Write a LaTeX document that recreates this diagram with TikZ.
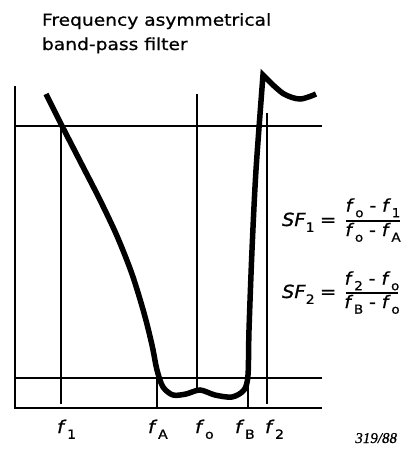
\documentclass[tikz,border=0pt]{standalone}
\usepackage{fontspec}
\usepackage{graphicx}
\setmainfont{DejaVu Sans}[FakeStretch=1.12,FakeBold=0.8]
\newfontfamily\titlefont{DejaVu Sans}[FakeStretch=1.13,FakeBold=0.8]
\newfontfamily\sffont{DejaVu Sans}[FakeStretch=1.08,FakeBold=0.8]
\newfontfamily\numfont{Liberation Serif}[FakeBold=0.8]
\newcommand\sbs[1]{\raisebox{-0.33em}{\scalebox{0.72}{\upshape #1}}}
\newcommand\ff[1]{\textit{f}\kern0.04em\sbs{#1}}
\begin{document}
\begin{tikzpicture}[x=1pt,y=-1pt,
  thinln/.style={line width=1.5pt},
  curveln/.style={line width=5.5pt, line join=miter, line cap=butt},
  txt/.style={inner sep=0pt, outer sep=0pt},
  title/.style={txt, anchor=base west, font=\titlefont\fontsize{16.5}{20}\selectfont},
  lbl/.style={txt, anchor=base west, font=\fontsize{17.5}{20}\selectfont},
  sfont/.style={txt, anchor=base west, font=\sffont\fontsize{18}{22}\selectfont},
  frac/.style={txt, anchor=base, font=\sffont\fontsize{17.3}{20}\selectfont},
  barln/.style={line width=1.3pt}]
\useasboundingbox (0,0) rectangle (405,455);

% title
\node[title] (ttl1) at (42,25.7) {Frequency asymmetrical};
\node[title] (ttl2) at (42,50) {band-pass filter};

% frame lines
\draw[thinln] (15,86) -- (15,408) -- (322,408);
\draw[thinln] (15,126) -- (322,126);
\draw[thinln] (15,378) -- (322,378);

% frequency markers
\draw[thinln] (61,126) -- (61,404);
\draw[thinln] (197,94) -- (197,390);
\draw[thinln] (157,378) -- (157,408);
\draw[thinln] (248,380) -- (248,408);
\draw[thinln] (267,113) -- (267,404);

% response curve
\draw[curveln] plot[smooth,tension=0.5] coordinates {(46,94) (61,124) (80,161) (100,200) (117,236) (132,274) (144,313) (152,345) (157,370) (163,387) (173,395) (186,394) (200,390) (215,395) (232,397) (244,390) (248,375) (249,330) (252,250) (256,170) (263,75)}
  -- plot[smooth,tension=0.55] coordinates {(271,83) (284,94) (300,99) (316,94)};

% axis labels
\node[lbl] (l1) at (57,433) {\ff{1}};
\node[lbl] (lA) at (148,433) {\ff{A}};
\node[lbl] (lo) at (195,433) {\ff{o}};
\node[lbl] (lB) at (235,433) {\ff{B}};
\node[lbl] (l2) at (265,433) {\ff{2}};

% formulas
\node[sfont] (sf1) at (282,226) {\textit{SF}\sbs{1}};
\node[sfont] (eq1) at (320,226) {=};
\node[frac] (n1) at (373,211.5) {\ff{o} - \ff{1}};
\node[frac] (d1) at (373,236) {\ff{o} - \ff{A}};
\coordinate (b1l) at (346,221);
\coordinate (b1r) at (400,221);
\draw[barln] (b1l) -- (b1r);

\node[sfont] (sf2) at (282,298) {\textit{SF}\sbs{2}};
\node[sfont] (eq2) at (320,298) {=};
\node[frac] (n2) at (372,284.5) {\ff{2} - \ff{o}};
\node[frac] (d2) at (372,308) {\ff{B} - \ff{o}};
\coordinate (b2l) at (346,293);
\coordinate (b2r) at (398,293);
\draw[barln] (b2l) -- (b2r);

% figure number
\node[txt, anchor=base east, font=\numfont\itshape\fontsize{15}{17}\selectfont] (fig) at (397,443) {319/88};
\end{tikzpicture}
\end{document}
